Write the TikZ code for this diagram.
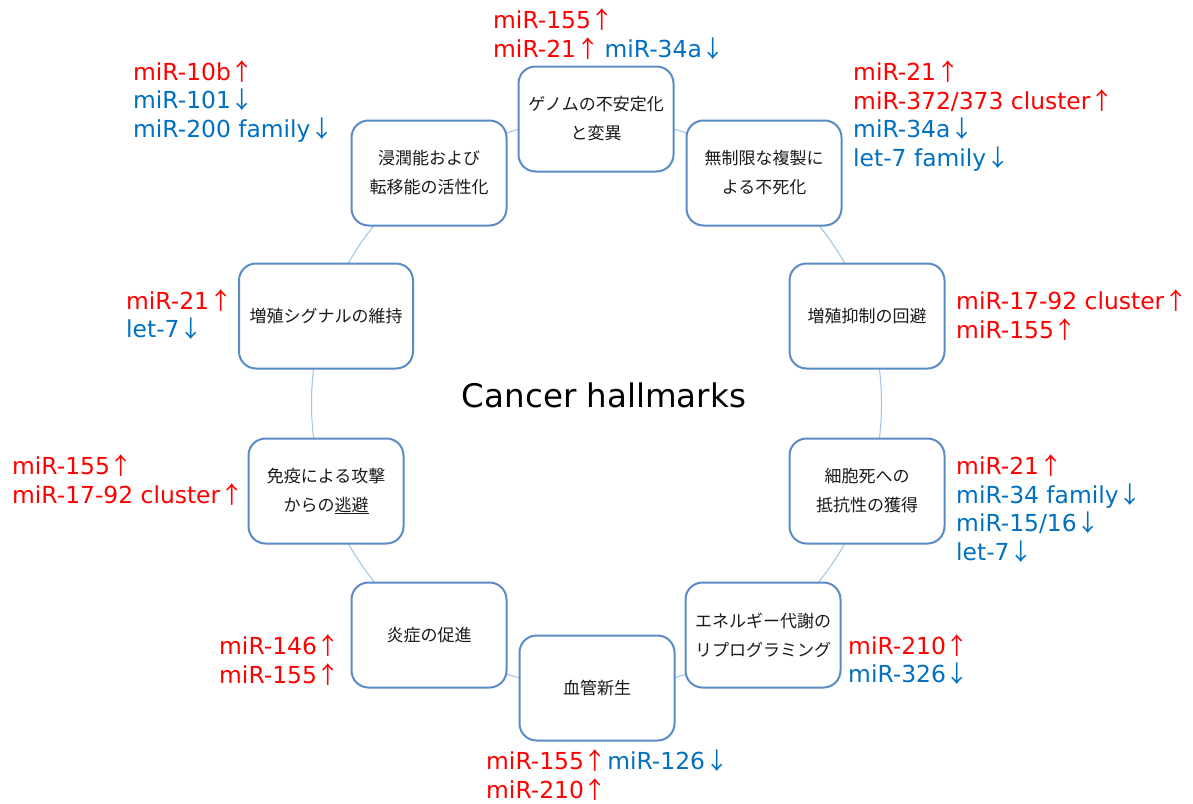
\documentclass[tikz,border=0pt]{standalone}
\usepackage{fontspec}
\setmainfont{Noto Sans CJK JP}
\newfontfamily\lat{DejaVu Sans}
\definecolor{upred}{HTML}{FF0000}
\definecolor{dnblue}{HTML}{0070C0}
\definecolor{boxline}{HTML}{5B8BC5}
\definecolor{ringline}{HTML}{9DC3E6}
\definecolor{boxtext}{HTML}{1A1A1A}
\newcommand{\mup}[1]{\textcolor{upred}{{\lat #1}↑}}
\newcommand{\mdn}[1]{\textcolor{dnblue}{{\lat #1}↓}}
\tikzset{
  hm/.style={draw=boxline, line width=2pt, rounded corners=17pt, fill=white,
    minimum width=155pt, minimum height=105pt, align=center, inner sep=0pt,
    text=boxtext, font=\fontsize{17}{29}\selectfont},
  lab/.style={anchor=west, align=left, inner sep=0pt, font=\fontsize{23.4}{28.5}\selectfont},
  ring/.style={draw=ringline, line width=1pt}
}
\begin{document}
\begin{tikzpicture}[x=1pt,y=-1pt]
\path[use as bounding box, fill=white] (0,0) rectangle (1193,803);
\draw[ring] (596.5,403.5) circle[radius=285];
\node[font=\lat\fontsize{32.5}{38}\selectfont, text=black] (title) at (604,395) {Cancer hallmarks};
\node[hm] (genome) at (596,119) {ゲノムの不安定化\\と変異};
\node[hm] (immort) at (764,173) {無制限な複製に\\よる不死化};
\node[hm] (supp) at (867,316) {増殖抑制の回避};
\node[hm] (death) at (867,491) {細胞死への\\抵抗性の獲得};
\node[hm] (energy) at (763,635) {エネルギー代謝の\\リプログラミング};
\node[hm] (angio) at (597,688) {血管新生};
\node[hm] (inflam) at (429,635) {炎症の促進};
\node[hm] (immune) at (326,491) {免疫による攻撃\\からの\underline{逃避}};
\node[hm, minimum width=174pt] (prolif) at (326,316) {増殖シグナルの維持};
\node[hm] (invade) at (429,173) {浸潤能および\\転移能の活性化};
\node[lab] (lgenome) at (493,34) {\mup{miR-155}\\\mup{miR-21} \mdn{miR-34a}};
\node[lab] (limmort) at (853,116) {\mup{miR-21}\\\mup{miR-372/373 cluster}\\\mdn{miR-34a}\\\mdn{let-7 family}};
\node[lab] (lsupp) at (956,315) {\mup{miR-17-92 cluster}\\\mup{miR-155}};
\node[lab] (ldeath) at (956,508.5) {\mup{miR-21}\\\mdn{miR-34 family}\\\mdn{miR-15/16}\\\mdn{let-7}};
\node[lab] (lenergy) at (848,659.5) {\mup{miR-210}\\\mdn{miR-326}};
\node[lab] (langio) at (486,775) {\mup{miR-155}\mdn{miR-126}\\\mup{miR-210}};
\node[lab] (linflam) at (219,660) {\mup{miR-146}\\\mup{miR-155}};
\node[lab] (limmune) at (12,480) {\mup{miR-155}\\\mup{miR-17-92 cluster}};
\node[lab] (lprolif) at (126,314.5) {\mup{miR-21}\\\mdn{let-7}};
\node[lab] (linvade) at (133,101.5) {\mup{miR-10b}\\\mdn{miR-101}\\\mdn{miR-200 family}};
\end{tikzpicture}
\end{document}
